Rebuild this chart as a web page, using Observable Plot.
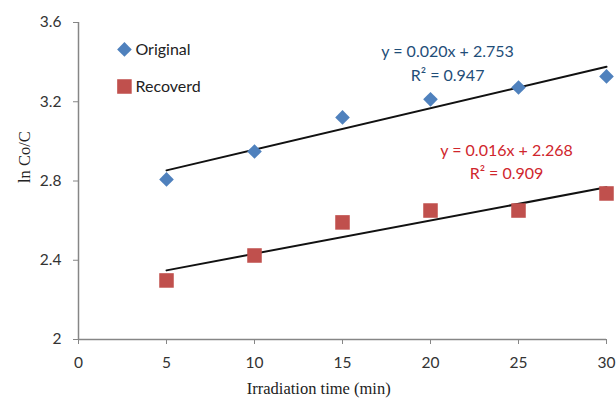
<!DOCTYPE html>
<html>
<head>
<meta charset="utf-8">
<script src="https://cdn.jsdelivr.net/npm/d3@7"></script>
<script src="https://cdn.jsdelivr.net/npm/@observablehq/plot@0.6"></script>
<style>
  html, body { margin: 0; padding: 0; background: #fff; }
  #chart { width: 616px; height: 402px; }
</style>
</head>
<body>
<div id="chart"></div>
<script>
const time = [5, 10, 15, 20, 25, 30];
const original = [2.808, 2.949, 3.121, 3.212, 3.272, 3.328];
const recovered = [2.298, 2.424, 2.591, 2.651, 2.651, 2.737];
const seriesNames = ["Original", "Recoverd"];
const seriesColors = ["#4F81BD", "#C0504D"];
const eqOriginal = ["y = 0.020x + 2.753", "R\u00B2 = 0.947"];
const eqRecovered = ["y = 0.016x + 2.268", "R\u00B2 = 0.909"];
const xTicks = [0, 5, 10, 15, 20, 25, 30];
const yTicks = [2, 2.4, 2.8, 3.2, 3.6];
const xTitle = "Irradiation time (min)";
const yTitle = "ln Co/C";

const dOrig = time.map((t, i) => ({x: t, y: original[i]}));
const dRec = time.map((t, i) => ({x: t, y: recovered[i]}));

const legendOrig = [{x: 2.61, y: 3.464, name: seriesNames[0]}];
const legendRec = [{x: 2.61, y: 3.277, name: seriesNames[1]}];

const chart = Plot.plot({
  width: 616,
  height: 402,
  marginLeft: 78,
  marginRight: 10,
  marginTop: 22,
  marginBottom: 63,
  style: {fontFamily: "Lato, 'Open Sans', sans-serif", fontSize: "15px", background: "#fff"},
  x: {domain: [0, 30]},
  y: {domain: [2, 3.6]},
  marks: [
    Plot.axisX({ticks: xTicks, tickSize: 5, tickPadding: 12, label: null, stroke: "#868686", fill: "#333", fontSize: 15.5}),
    Plot.axisY({ticks: yTicks, tickSize: 5, tickPadding: 12, label: null, stroke: "#868686", fill: "#333", fontSize: 15.5, tickFormat: d => String(d)}),
    Plot.ruleX([0], {stroke: "#868686", strokeWidth: 1.5}),
    Plot.ruleY([2], {stroke: "#868686", strokeWidth: 1.5}),
    Plot.linearRegressionY(dOrig, {x: "x", y: "y", stroke: "#111", strokeWidth: 2, ci: 0}),
    Plot.linearRegressionY(dRec, {x: "x", y: "y", stroke: "#111", strokeWidth: 2, ci: 0}),
    Plot.dot(dOrig, {x: "x", y: "y", symbol: "diamond2", fill: seriesColors[0], r: 6.6}),
    Plot.dot(dRec, {x: "x", y: "y", symbol: "square", fill: seriesColors[1], r: 8.2}),
    Plot.dot(legendOrig, {x: "x", y: "y", symbol: "diamond2", fill: seriesColors[0], r: 6.6}),
    Plot.dot(legendRec, {x: "x", y: "y", symbol: "square", fill: seriesColors[1], r: 8.2}),
    Plot.text(legendOrig.concat(legendRec), {x: "x", y: "y", text: "name", textAnchor: "start", dx: 11, fill: "#222", fontSize: 16}),
    Plot.text(eqOriginal, {x: 20.97, y: (d, i) => [3.454, 3.333][i], text: d => d, fill: "#1F4E79", fontSize: 16}),
    Plot.text(eqRecovered, {x: 24.32, y: (d, i) => [2.951, 2.838][i], text: d => d, fill: "#D0262D", fontSize: 16}),
    Plot.text([xTitle], {x: 13.65, frameAnchor: "bottom", dy: 54, text: d => d, fontFamily: "'Liberation Serif', 'Times New Roman', serif", fontSize: 16.5, fill: "#222"}),
    Plot.text([yTitle], {y: 2.79, frameAnchor: "left", dx: -54, rotate: -90, text: d => d, fontFamily: "'Liberation Serif', 'Times New Roman', serif", fontSize: 16.5, fill: "#222"})
  ]
});
document.getElementById("chart").appendChild(chart);
</script>
</body>
</html>
